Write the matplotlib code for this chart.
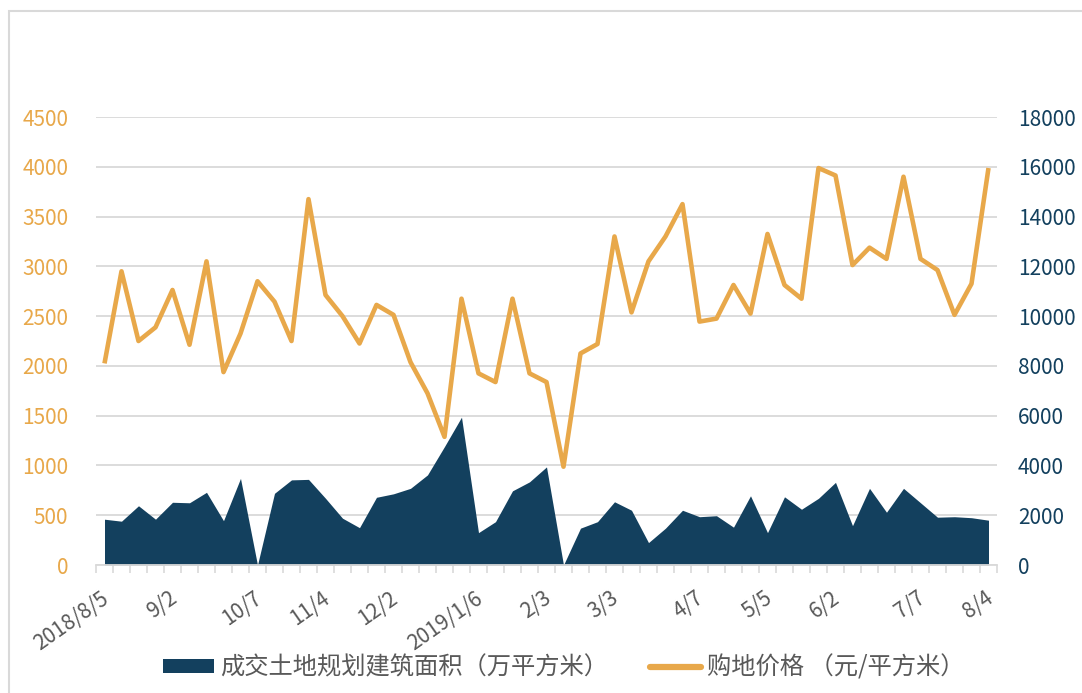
# -*- coding:utf-8 -*-
import matplotlib
matplotlib.use('Agg')
import matplotlib.pyplot as plt
from matplotlib.patches import Patch, Rectangle
from matplotlib.lines import Line2D
from matplotlib.transforms import ScaledTranslation
import numpy as np
import pandas as pd

plt.rcParams['font.family'] = ['Noto Sans CJK SC', 'DejaVu Sans']

# 每周数据 2018/8/5 - 2019/8/4
weeks = pd.date_range('2018-08-05', periods=53, freq='W-SUN')

# 成交土地规划建筑面积（万平方米）
area = [460, 440, 595, 460, 630, 625, 730, 445, 870, 0,
        720, 855, 860, 670, 470, 375, 680, 715, 770, 905,
        1190, 1485, 325, 435, 745, 835, 985, 0, 370, 435,
        635, 550, 225, 370, 550, 485, 495, 380, 695, 325,
        685, 560, 670, 830, 395, 770, 530, 770, 625, 480,
        485, 475, 450]

# 购地价格（元/平方米）
price = [8100, 11800, 9000, 9550, 11050, 8850, 12200, 7750, 9300, 11400,
         10580, 9000, 14700, 10850, 10000, 8900, 10450, 10050, 8150, 6900,
         5150, 10700, 7700, 7350, 10700, 7700, 7350, 3950, 8500, 8880,
         13200, 10150, 12200, 13200, 14500, 9780, 9900, 11250, 10100, 13300,
         11250, 10700, 15950, 15650, 12050, 12750, 12300, 15600, 12300, 11850,
         10050, 11300, 15950]

area_name = '成交土地规划建筑面积（万平方米）'
price_name = '购地价格 （元/平方米）'

c_area = '#13405E'
c_price = '#E8A84A'
c_grid = '#D9D9D9'
c_text = '#595959'

# 每月第一周显示标签
tick_pos, tick_lab = [], []
for i, d in enumerate(weeks):
    if i == 0 or d.month != weeks[i - 1].month:
        tick_pos.append(i)
        if i == 0 or d.month == 1:
            tick_lab.append('%d/%d/%d' % (d.year, d.month, d.day))
        else:
            tick_lab.append('%d/%d' % (d.month, d.day))

x = np.arange(len(weeks))

fig = plt.figure(figsize=(10.82, 6.93), dpi=100)
ax = fig.add_axes([96 / 1082, 1 - 565 / 693, (997 - 96) / 1082, (565 - 117) / 693])
ax2 = ax.twinx()

ax.fill_between(x, area, 0, color=c_area, linewidth=0, zorder=2)
ax2.plot(x, price, color=c_price, linewidth=3.3, solid_joinstyle='round',
         solid_capstyle='butt', zorder=3)

ax.set_xlim(-0.5, len(weeks) - 0.5)
ax.set_ylim(0, 4500)
ax2.set_ylim(0, 18000)
ax.set_yticks(np.arange(0, 4501, 500))
ax2.set_yticks(np.arange(0, 18001, 2000))

ax.grid(axis='y', color=c_grid, linewidth=1.3, zorder=0)
ax.set_axisbelow(True)

for a in (ax, ax2):
    for s in ('top', 'left', 'right'):
        a.spines[s].set_visible(False)
ax2.spines['bottom'].set_visible(False)
ax.spines['bottom'].set_color(c_grid)
ax.spines['bottom'].set_linewidth(1.3)

ax.tick_params(axis='y', length=0, pad=20, labelsize=15, labelcolor=c_price)
ax2.tick_params(axis='y', length=0, pad=15, labelsize=15, labelcolor=c_area)

ax.set_xticks(np.arange(-0.5, len(weeks)), minor=True)
ax.set_xticks(tick_pos)
ax.set_xticklabels(tick_lab, rotation=35, ha='right', va='top',
                   rotation_mode='anchor', fontsize=15, color=c_text)
ax.tick_params(axis='x', which='major', length=0, pad=16)
ax.tick_params(axis='x', which='minor', length=6, width=1.2, color=c_grid)
shift = ScaledTranslation(-4 / 100, 0, fig.dpi_scale_trans)
for lab in ax.get_xticklabels():
    lab.set_transform(lab.get_transform() + shift)

handles = [Patch(facecolor=c_area, edgecolor='none'),
           Line2D([0], [0], color=c_price, linewidth=4.5, solid_capstyle='round')]
leg = fig.legend(handles, [area_name, price_name], loc='center',
                 bbox_to_anchor=(0.521, 0.037), ncol=2, frameon=False,
                 fontsize=17.5, handlelength=2.1, handleheight=0.5,
                 handletextpad=0.25, columnspacing=1.7, labelcolor=c_text)

# 外框
fig.patches.append(Rectangle((9 / 1082, -0.1), 1.2, 1.1 - 11 / 693,
                             transform=fig.transFigure, fill=False,
                             edgecolor=c_grid, linewidth=1.5))

fig.savefig('out.png', dpi=100)
